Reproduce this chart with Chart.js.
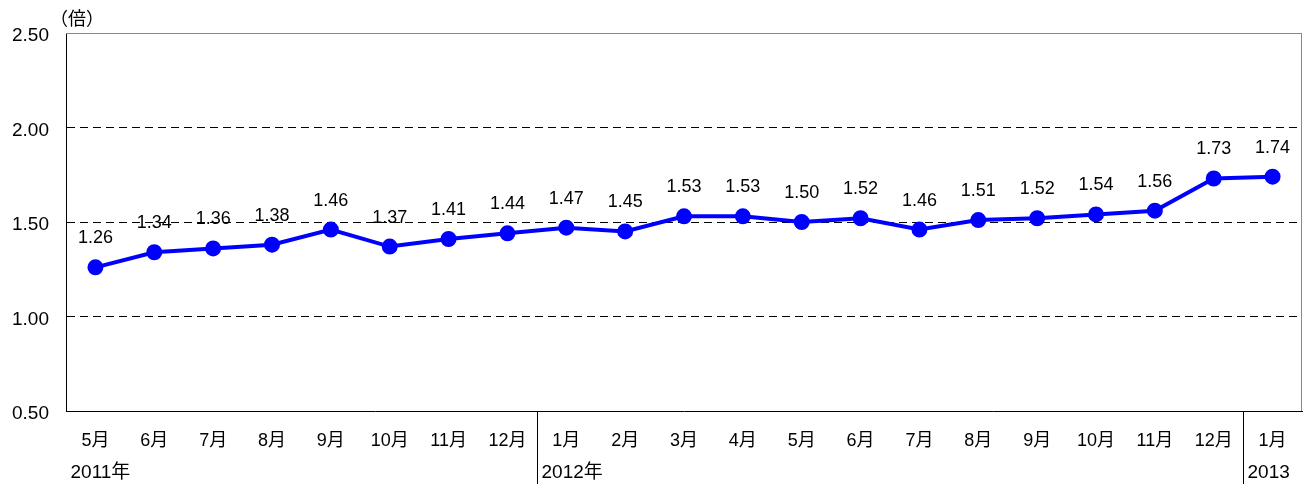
<!DOCTYPE html>
<html>
<head>
<meta charset="utf-8">
<script src="https://cdn.jsdelivr.net/npm/chart.js"></script>
<style>
  body { margin: 0; background: #fff; }
</style>
</head>
<body>
<canvas id="ratio" width="1304" height="484"></canvas>
<script>
// data
const months = ['5月', '6月', '7月', '8月', '9月', '10月', '11月', '12月',
  '1月', '2月', '3月', '4月', '5月', '6月', '7月', '8月', '9月', '10月', '11月', '12月', '1月'];
const ratios = [1.26, 1.34, 1.36, 1.38, 1.46, 1.37, 1.41, 1.44,
  1.47, 1.45, 1.53, 1.53, 1.50, 1.52, 1.46, 1.51, 1.52, 1.54, 1.56, 1.73, 1.74];
// year label starts at this category index
const yearStarts = [0, 8, 20];
const yearLabels = ['2011年', '2012年', '2013'];
const yTicks = [0.5, 1.0, 1.5, 2.0, 2.5];

const FONT = '"Liberation Sans", "Noto Sans CJK JP", sans-serif';

const extras = {
  id: 'extras',
  afterDatasetsDraw(chart) {
    const ctx = chart.ctx;
    const meta = chart.getDatasetMeta(0);
    ctx.save();
    ctx.fillStyle = '#000';
    ctx.font = '18px ' + FONT;
    ctx.textAlign = 'center';
    ctx.textBaseline = 'middle';
    meta.data.forEach((pt, i) => {
      ctx.fillText(ratios[i].toFixed(2), pt.x, pt.y - 29);
    });
    ctx.restore();
  },
  afterDraw(chart) {
    const ctx = chart.ctx;
    const a = chart.chartArea;
    const x = chart.scales.x;
    ctx.save();
    // top and right frame
    ctx.strokeStyle = '#888';
    ctx.lineWidth = 1;
    ctx.beginPath();
    ctx.moveTo(a.left, a.top + 0.5);
    ctx.lineTo(a.right, a.top + 0.5);
    ctx.stroke();
    ctx.beginPath();
    ctx.moveTo(a.right - 0.5, a.top);
    ctx.lineTo(a.right - 0.5, a.bottom);
    ctx.stroke();
    // year separators and labels
    const half = (x.getPixelForValue(1) - x.getPixelForValue(0)) / 2;
    ctx.strokeStyle = '#000';
    ctx.fillStyle = '#000';
    ctx.font = '19px ' + FONT;
    ctx.textAlign = 'left';
    ctx.textBaseline = 'middle';
    yearStarts.forEach((idx, k) => {
      const sx = Math.round(x.getPixelForValue(idx) - half) + 0.5;
      if (idx > 0) {
        ctx.beginPath();
        ctx.moveTo(sx, a.bottom);
        ctx.lineTo(sx, chart.height);
        ctx.stroke();
      }
      ctx.fillText(yearLabels[k], sx + 4, 473);
    });
    // unit
    ctx.font = '18px "Noto Sans CJK JP", sans-serif';
    ctx.fillText('（倍）', 50, 18);
    ctx.restore();
  }
};

new Chart('ratio', {
  type: 'line',
  data: {
    labels: months,
    datasets: [{
      data: ratios,
      borderColor: '#0000FF',
      backgroundColor: '#0000FF',
      borderWidth: 4,
      pointRadius: 6,
      pointHoverRadius: 6,
      tension: 0
    }]
  },
  options: {
    responsive: false,
    animation: false,
    layout: { autoPadding: false, padding: { top: 33, right: 2, left: 0, bottom: 0 } },
    plugins: {
      legend: { display: false },
      tooltip: { enabled: false }
    },
    scales: {
      x: {
        offset: true,
        grid: { display: false },
        border: { display: true, color: '#000', width: 1 },
        ticks: {
          color: '#000',
          font: { family: FONT, size: 18 },
          padding: 11,
          maxRotation: 0,
          autoSkip: false
        },
        afterFit(scale) {
          scale.height = 73;
          scale.paddingLeft = 0;
          scale.paddingRight = 0;
        }
      },
      y: {
        min: 0.5,
        max: 2.5,
        afterBuildTicks(scale) { scale.ticks = yTicks.map(v => ({ value: v })); },
        grid: {
          drawTicks: false,
          color: ctx => (ctx.tick && (ctx.tick.value === 0.5 || ctx.tick.value === 2.5)) ? 'rgba(0,0,0,0)' : '#000',
          lineWidth: 1
        },
        border: { display: true, color: '#000', width: 1, dash: [8, 5] },
        ticks: {
          color: '#000',
          font: { family: FONT, size: 19 },
          padding: 17,
          labelOffset: 3,
          callback: v => v.toFixed(2)
        },
        afterFit(scale) {
          scale.width = 66;
          scale.paddingTop = 0;
          scale.paddingBottom = 0;
        }
      }
    }
  },
  plugins: [extras]
});
</script>
</body>
</html>
